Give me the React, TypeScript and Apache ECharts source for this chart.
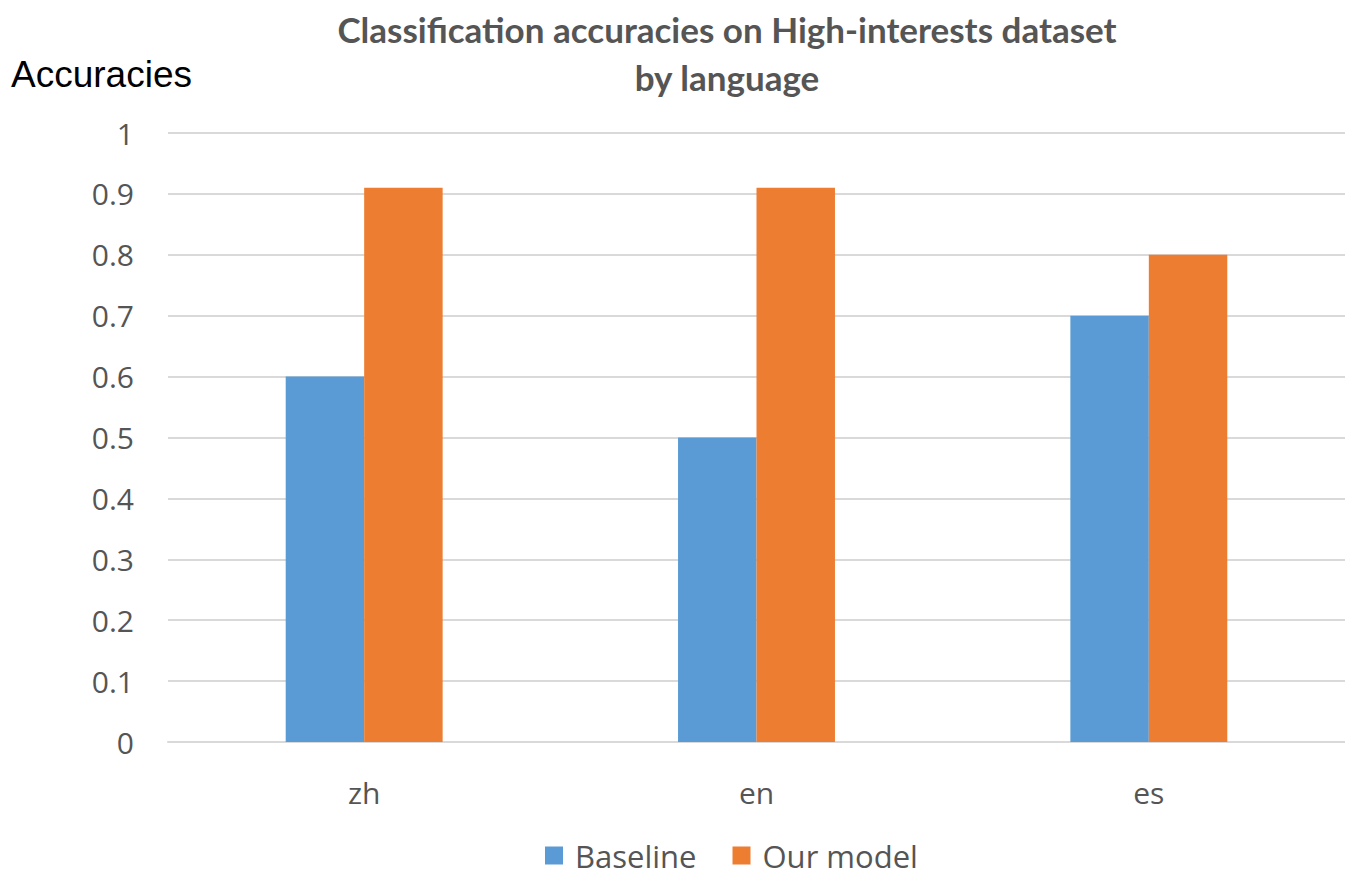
import React, { useEffect, useRef } from "react";
import * as echarts from "echarts";

const categories = ["zh", "en", "es"];
const baseline = [0.6, 0.5, 0.7];
const ourModel = [0.91, 0.91, 0.8];
const seriesNames = ["Baseline", "Our model"];

export default function App() {
  const ref = useRef<HTMLDivElement>(null);
  useEffect(() => {
    document.body.style.margin = "0";
    const chart = echarts.init(ref.current!, null, { renderer: "svg" });
    chart.setOption({
      animation: false,
      backgroundColor: "#ffffff",
      title: {
        text: "Classification accuracies on High-interests dataset\nby language",
        left: 722,
        textAlign: "center",
        top: 0,
        textStyle: {
          fontFamily: "Lato",
          fontWeight: "bold",
          fontSize: 35,
          color: "#555555",
          lineHeight: 48,
        },
      },
      graphic: [
        {
          type: "text",
          left: 11,
          top: 56,
          style: {
            text: "Accuracies",
            font: '37px "Liberation Sans"',
            fill: "#000000",
          },
        },
      ],
      legend: {
        data: seriesNames,
        top: 840,
        left: 545,
        padding: 0,
        itemWidth: 18,
        itemHeight: 18,
        itemGap: 36,
        icon: "rect",
        textStyle: {
          fontFamily: "Open Sans",
          fontSize: 31,
          color: "#555555",
          padding: [0, 0, 0, 7],
        },
      },
      grid: { left: 168, right: 0, top: 133, bottom: 136 },
      xAxis: {
        type: "category",
        data: categories,
        axisLine: { lineStyle: { color: "#d9d9d9", width: 2 } },
        axisTick: { show: false },
        axisLabel: {
          fontFamily: "Open Sans",
          fontSize: 30,
          color: "#555555",
          margin: 35,
        },
      },
      yAxis: {
        type: "value",
        min: 0,
        max: 1,
        interval: 0.1,
        axisLine: { show: false },
        axisTick: { show: false },
        splitLine: { lineStyle: { color: "#d9d9d9", width: 2 } },
        axisLabel: {
          fontFamily: "Open Sans",
          fontSize: 30,
          color: "#555555",
          margin: 34,
          formatter: (v: number) => String(Math.round(v * 10) / 10),
        },
      },
      series: [
        {
          name: seriesNames[0],
          type: "bar",
          data: baseline,
          barGap: "0%",
          barCategoryGap: "60%",
          itemStyle: { color: "#5b9bd5" },
        },
        {
          name: seriesNames[1],
          type: "bar",
          data: ourModel,
          barGap: "0%",
          barCategoryGap: "60%",
          itemStyle: { color: "#ed7d31" },
        },
      ],
    });
    return () => chart.dispose();
  }, []);
  return (
    <div
      ref={ref}
      style={{ position: "absolute", left: 0, top: 0, width: 1345, height: 878 }}
    />
  );
}
